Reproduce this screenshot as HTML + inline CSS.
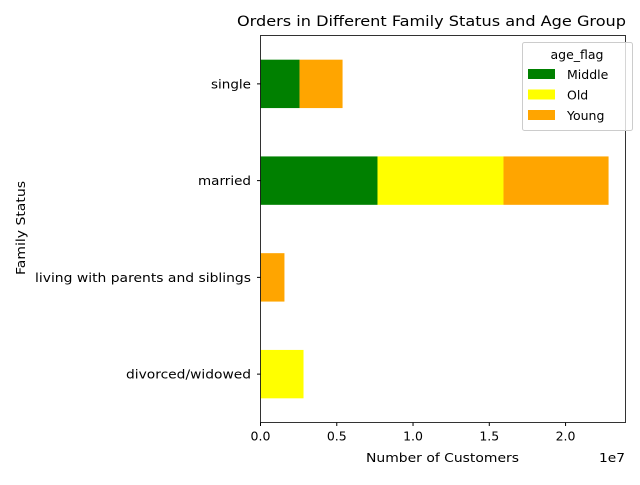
<!DOCTYPE html>
<html><head><meta charset="utf-8"><style>
body{margin:0;background:#fff;font-family:"Liberation Sans","DejaVu Sans",sans-serif;}
svg text{font-family:"DejaVu Sans","Liberation Sans",sans-serif;fill:#000;}
</style></head><body>
<svg id="chart" width="640" height="480" viewBox="0 0 640 480">
<text x="237" y="26" font-size="14.4" textLength="389" lengthAdjust="spacingAndGlyphs">Orders in Different Family Status and Age Group</text>
<g id="bars"></g>
<g id="yticks"></g>
<g id="xticks"></g>
<rect x="260.5" y="35.5" width="365" height="387" fill="none" stroke="#000" stroke-width="0.8"/>
<text x="366" y="462" font-size="12.5" textLength="153" lengthAdjust="spacingAndGlyphs">Number of Customers</text>
<text x="599" y="462" font-size="12.5" textLength="26" lengthAdjust="spacingAndGlyphs">1e7</text>
<text x="25" y="275" font-size="12.5" textLength="94" lengthAdjust="spacingAndGlyphs" transform="rotate(-90 25 275)">Family Status</text>
<g>
<rect x="522.5" y="42.5" width="110" height="88" rx="2" fill="#fff" fill-opacity="0.8" stroke="#ccc"/>
<text x="577" y="59" font-size="12.5" text-anchor="middle">age_flag</text>
<g id="legend"></g>
</g>
</svg>
<script>
const categories=["single","married","living with parents and siblings","divorced/widowed"];
const labelWidths=[40,53,216,125];
const seriesNames=["Middle","Old","Young"];
const middle=[2.56e6,7.67e6,0,0];
const old=[0,8.26e6,0,2.82e6];
const young=[2.82e6,6.89e6,1.57e6,0];
const xTicks=[0,0.5e7,1.0e7,1.5e7,2.0e7];
const xTickLabels=["0.0","0.5","1.0","1.5","2.0"];
const colors=["#008000","#ffff00","#ffa500"];
const NS="http://www.w3.org/2000/svg";
const L=260.5,T=35.5,W=365,H=387,xmax=2.393e7;
const xs=v=>L+v/xmax*W;
const ys=i=>T+(i+0.5)*H/categories.length;
const series=[middle,old,young];
const bars=document.getElementById('bars');
categories.forEach((c,i)=>{
  let acc=0;
  series.forEach((s,k)=>{
    const v=s[i];
    if(v>0){
      const r=document.createElementNS(NS,'rect');
      r.setAttribute('x',xs(acc));r.setAttribute('width',xs(acc+v)-xs(acc));
      r.setAttribute('y',ys(i)-24.2);r.setAttribute('height',48.4);
      r.setAttribute('fill',colors[k]);
      
      
      bars.appendChild(r);
    }
    acc+=v;
  });
  const yt=document.getElementById('yticks');
  const ln=document.createElementNS(NS,'line');
  ln.setAttribute('x1',L-3.5);ln.setAttribute('x2',L);ln.setAttribute('y1',ys(i));ln.setAttribute('y2',ys(i));ln.setAttribute('stroke','#000');
  
  
  yt.appendChild(ln);
  const t=document.createElementNS(NS,'text');
  t.setAttribute('x',251-labelWidths[i]);t.setAttribute('y',ys(i)+4.5);t.setAttribute('font-size','12.5');
  t.setAttribute('textLength',labelWidths[i]);t.setAttribute('lengthAdjust','spacingAndGlyphs');
  t.textContent=c;
  
  
  yt.appendChild(t);
});
const xt=document.getElementById('xticks');
xTicks.forEach((v,j)=>{
  const ln=document.createElementNS(NS,'line');
  ln.setAttribute('x1',xs(v));ln.setAttribute('x2',xs(v));ln.setAttribute('y1',T+H);ln.setAttribute('y2',T+H+3.5);ln.setAttribute('stroke','#000');
  
  
  xt.appendChild(ln);
  const t=document.createElementNS(NS,'text');
  t.setAttribute('x',xs(v));t.setAttribute('y',T+H+18);t.setAttribute('font-size','12.5');t.setAttribute('text-anchor','middle');
  t.textContent=xTickLabels[j];
  
  
  xt.appendChild(t);
});
const lg=document.getElementById('legend');
seriesNames.forEach((n,k)=>{
  const y=69+k*20.5;
  const r=document.createElementNS(NS,'rect');
  r.setAttribute('x',528);r.setAttribute('y',y);r.setAttribute('width',27);r.setAttribute('height',10);r.setAttribute('fill',colors[k]);
  
  
  lg.appendChild(r);
  const t=document.createElementNS(NS,'text');
  t.setAttribute('x',567);t.setAttribute('y',y+10);t.setAttribute('font-size','12.5');
  t.textContent=n;
  
  
  lg.appendChild(t);
});
</script>
</body></html>
